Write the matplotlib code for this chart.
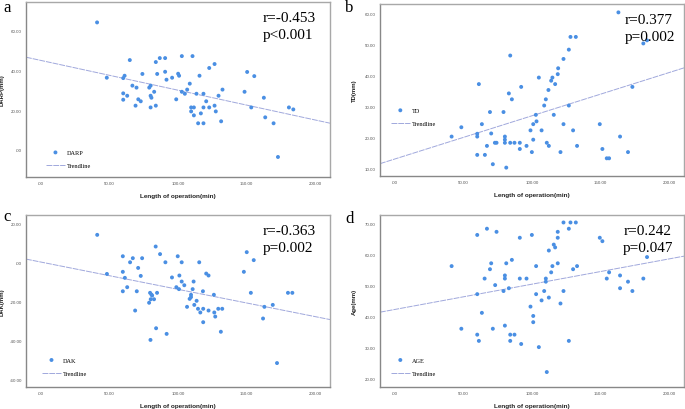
import matplotlib.pyplot as plt
import numpy as np

# values
len_a = [40.9, 48, 64.8, 60, 61, 60, 60, 62.9, 66.7, 69.7, 69, 71, 72.8, 74, 79, 80, 80, 80.6, 80,
         82.6, 83.8, 83.8, 84.8, 86.7, 90.6, 90.6, 91.6, 95.7, 98.7, 100.1, 100.8, 102.8, 102.8, 105,
         106.7, 108.6, 109.6, 109.6, 111.6, 111.6, 110.6, 113.5, 114.7, 115.7, 116.7, 118.6, 118.6,
         118.6, 120.6, 122.8, 122.8, 126.7, 126.7, 127.6, 129.6, 131.5, 132.5, 148.6, 150.5, 153.5,
         155.7, 162.7, 163.7, 169.8, 173, 181, 184.2]
darp = [64.2, 36.3, 45.2, 36.1, 37.3, 28.4, 25.2, 27.2, 32.3, 31.3, 22.2, 25.4, 24.4, 38.2, 31.3, 32.3,
        27.2, 26.2, 21.3, 29.2, 44.2, 22.2, 38.2, 46.2, 39.3, 46.2, 35.3, 36.3, 25.4, 38.3, 37.3, 47.2,
        29.2, 28.2, 30.3, 33.3, 21.3, 19.3, 21.3, 17.3, 47.2, 28.2, 13.3, 37.3, 18.3, 21.3, 28.2, 13.3,
        24.4, 21.3, 41.2, 43.2, 22.2, 19.3, 27.2, 14.3, 30.3, 29.2, 39.2, 21.3, 37.1, 26.2, 16.3, 13.3,
        -3.7, 21.3, 20.3]

len_b = [163.1, 41.3, 48.4, 60, 60, 60, 61.2, 63.4, 65.6, 67.1, 69.3, 70.2, 71.4, 72.9, 74.1, 79.2,
         80.2, 80.2, 80.2, 81.2, 83.1, 84.1, 84.1, 85.3, 87.2, 91.1, 91.1, 92.1, 96, 98.9, 99.9, 100.9,
         100.9, 102.8, 103.3, 105, 107, 108.9, 110.1, 110.8, 112.3, 112, 114, 114.9, 115.9, 116.9,
         118.8, 119.1, 120.8, 123, 123, 126.9, 126.9, 128.1, 130, 132, 132.9, 149.5, 151.4, 154.6,
         156.3, 164.3, 170.1, 173.3, 181.3, 184]
td = [60.2, 20.2, 23.2, 21.1, 20.2, 14.3, 37.1, 24.2, 14.3, 17.2, 28.1, 21.2, 11.3, 18.2, 18.2, 28.1,
      20.2, 19.2, 18.2, 10.2, 34.1, 46.3, 18.2, 32.2, 18.2, 18.2, 16.2, 36.2, 17.2, 22.2, 15.2, 19.2,
      24.2, 27.2, 25.1, 39.2, 22.2, 30.2, 32.2, 18.2, 17.2, 35.2, 38.2, 39.2, 27.2, 37.1, 40.3, 42.2,
      15.2, 24.2, 45.2, 30.2, 48.2, 52.3, 22.2, 52.3, 17.2, 24.2, 16.2, 13.2, 13.2, 20.2, 15.2, 36.2,
      50.2, 51.2]

len_c = [41, 48.1, 59.7, 59.7, 59.7, 61.2, 62.9, 65, 67, 68.7, 69.9, 70.9, 72.8, 73.8, 78.9, 79.6,
         80.6, 80.1, 81.1, 79.9, 82.5, 83.7, 84, 84.7, 86.9, 90.8, 91.7, 95.6, 98.8, 99.8, 100.7, 101,
         102.7, 102.7, 104.6, 106.6, 108.5, 109.5, 109.5, 110.7, 111.4, 111.9, 113.6, 114.6, 115.5,
         116.3, 118.2, 118.4, 118.4, 120.6, 122.3, 122.3, 126.2, 126.5, 127.2, 129.4, 131.3, 132.3,
         148.1, 150.2, 153.2, 155.3, 162.1, 163.1, 169.2, 172.3, 180.3, 183.5]
dak = [14.4, -5.7, 3.4, -4.6, -14.6, -7.7, -12.5, 0.3, 2.4, -24.5, -14.6, -2.6, -6.7, 2.4, -20.5,
       -15.4, -16.3, -18.7, -16.8, -39.6, -18.7, 8.4, -33.6, -15.4, 4.5, 0.3, -36.5, -7.5, -12.5, 3.4,
       -13.5, -6.5, -9.6, 0.3, -11.5, -22.6, -18.5, -16.4, -17.6, -13.5, -9.6, -21.6, -19.5, -23.6,
       0.3, -25.5, -14.6, -23.6, -30.5, -5.5, -24.5, -6.5, -16.4, -25.5, -27.6, -23.6, -35.4, -23.6,
       -4.6, 5.5, -15.4, 1.4, -28.6, -22.6, -21.6, -51.5, -15.4, -15.4]

len_d = [41.3, 48.4, 60, 60, 60, 61.2, 63.4, 65.4, 67.1, 69.3, 70.2, 71.4, 73.1, 74.1, 79.2, 80.2,
         80.2, 80.2, 81.2, 83.1, 84.1, 84.1, 85.3, 87.2, 91.1, 91.1, 92.1, 96, 98.9, 99.9, 100.9,
         100.9, 103, 103, 105, 107, 108.9, 110.1, 110.1, 110.8, 112.3, 112.3, 114, 114.9, 115.9,
         116.9, 118.8, 118.8, 118.8, 120.8, 123, 123, 126.9, 126.9, 128.1, 130, 132, 132.9, 149.5,
         151.4, 154.6, 156.3, 164.3, 164.3, 170.1, 173.3, 181.3, 184]
age = [56.2, 36.1, 66.2, 47.2, 34.2, 32.2, 41.2, 52.2, 68.2, 55.2, 57.1, 36.1, 50.1, 67.2, 48.2, 52.2,
       53.2, 37.1, 57.1, 49.1, 34.2, 32.2, 58.2, 34.2, 65.3, 52.2, 31.2, 52.2, 43.2, 66.2, 40.2, 38.2,
       56.2, 47.2, 30.2, 45.2, 48.2, 52.2, 51.2, 22.2, 61.2, 46.1, 54.2, 56.2, 63.1, 62.2, 65.3, 67.2,
       57.1, 44.2, 70.2, 48.2, 68.2, 32.2, 70.2, 55.2, 70.2, 56.2, 65.3, 64.2, 52.2, 54.2, 49.1, 53.2,
       51.2, 48.2, 52.2, 59.1]

# trendline (intercept, slope) as drawn
trend_a = (45.0, -0.150)
trend_b = (13.0, 0.139)
trend_c = (0.4, -0.140)
trend_d = (42.3, 0.081)

names = ['DARP', 'TD', 'DAK', 'AGE']
ylabels = ['DARP(mm)', 'TD(mm)', 'DAK(mm)', 'Age(mm)']
letters = ['a', 'b', 'c', 'd']
r_lines = ['r=-0.453', 'r=0.377', 'r=-0.363', 'r=0.242']
p_lines = ['p<0.001', 'p=0.002', 'p=0.002', 'p=0.047']
xticks = [0, 50, 100, 150, 200]
yticks_all = [[0, 20, 40, 60], [10, 20, 30, 40, 50, 60], [-60, -40, -20, 0, 20], [20, 30, 40, 50, 60, 70]]
ylims = [(-13.8, 74.5), (7.5, 62.9), (-63.8, 24.6), (17.4, 72.6)]

W, H = 685, 410
fig = plt.figure(figsize=(6.85, 4.1), dpi=100)

# axes boxes in pixels: left, top, right, bottom
boxes = [(26, 3, 330, 178), (380, 5, 684, 177), (26, 216, 330, 388), (380, 216, 684, 388)]
legend_pos = [(0.066, 0.05), (0.036, 0.29), (0.053, 0.065), (0.036, 0.065)]
text_x = [0.78, 0.806, 0.78, 0.80]
letter_xy = [(3, 8), (345, 8), (3, 217), (345, 219)]
ylabel_x = [5, 357, 5, 357]

xs = [len_a, len_b, len_c, len_d]
ys = [darp, td, dak, age]
trends = [trend_a, trend_b, trend_c, trend_d]

def fmt(v, pos=None):
    s = f'{v:.2f}'
    if s.startswith('0'):
        s = s[1:]
    return s

blue = '#4a8fe3'
tcol = '#a0a8dc'

for i in range(4):
    l, t, r, b = boxes[i]
    w, h = r - l, b - t
    ax = fig.add_axes([l / W, 1 - b / H, w / W, h / H])
    ax.scatter(xs[i], ys[i], s=8, color=blue, edgecolors='none', zorder=3, label=names[i])
    xl = (-11, 211)
    xx = np.array(xl)
    b0, b1 = trends[i]
    ax.plot(xx, b0 + b1 * xx, color=tcol, lw=0.7, ls=(0, (6, 1)), label='Trendline')
    ax.set_xlim(xl)
    ax.set_ylim(ylims[i])
    ax.set_xticks(xticks)
    ax.set_yticks(yticks_all[i])
    ax.xaxis.set_major_formatter(plt.FuncFormatter(fmt))
    ax.yaxis.set_major_formatter(plt.FuncFormatter(fmt))
    ax.tick_params(labelsize=3.2, length=0, colors='#555555', pad=3)
    for lab in ax.get_xticklabels() + ax.get_yticklabels():
        lab.set_family('Liberation Sans')
    for sp in ax.spines.values():
        sp.set_color('#a8a8a8')
        sp.set_linewidth(1.0)
    ax.spines['left'].set_color('#888888')
    ax.spines['bottom'].set_color('#888888')
    ax.set_xlabel('Length of operation(min)', fontsize=4.6, fontweight='bold',
                  family='Liberation Sans', color='#222222')
    ax.xaxis.set_label_coords(0.5, -16 / h)
    ax.set_ylabel(ylabels[i], fontsize=4.3, fontweight='bold',
                  family='Liberation Sans', color='#222222')
    ax.yaxis.set_label_coords((ylabel_x[i] - l) / w, 0.5)
    ax.legend(loc='lower left', bbox_to_anchor=legend_pos[i], frameon=False,
              prop={'family': 'Liberation Serif', 'size': 4.5}, handlelength=3,
              labelspacing=1.25, handletextpad=0.3, borderpad=0, borderaxespad=0,
              scatterpoints=1)
    ax.text(text_x[i], 1 - 19 / h, r_lines[i], transform=ax.transAxes, va='baseline',
            ha='left', fontsize=11, family='Liberation Serif')
    ax.text(text_x[i], 1 - 36 / h, p_lines[i], transform=ax.transAxes, va='baseline',
            ha='left', fontsize=11, family='Liberation Serif')
    lx, ly = letter_xy[i]
    fig.text(lx / W, 1 - ly / H, letters[i], fontsize=12,
             family='Liberation Serif', va='center', ha='left')

fig.savefig('out.png', dpi=100)
